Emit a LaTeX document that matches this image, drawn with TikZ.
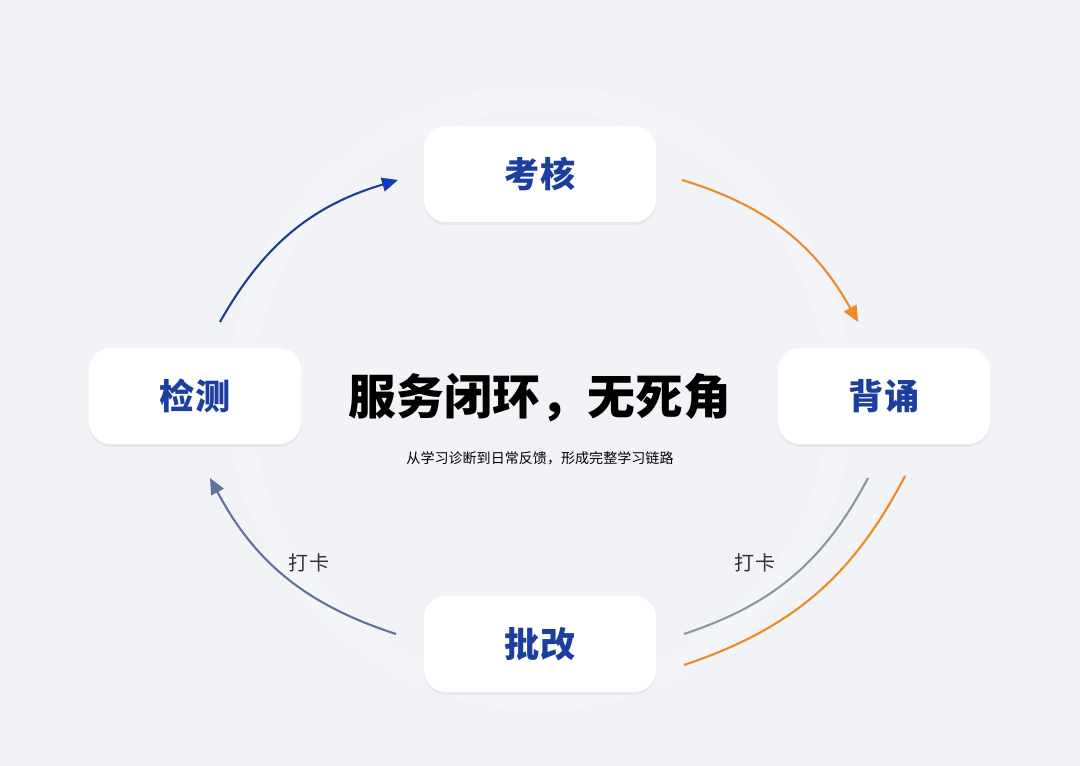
\documentclass[tikz,border=0pt]{standalone}
\usepackage{fontspec}
\setmainfont{Noto Sans CJK SC}
\usetikzlibrary{shadows,arrows.meta}
\definecolor{bgcol}{HTML}{F1F3F7}
\definecolor{boxtext}{HTML}{1C3E9E}
\definecolor{arcblue}{HTML}{1F3F8A}
\definecolor{arcorange}{HTML}{EE8A2A}
\definecolor{arcgray}{HTML}{8C96A6}
\tikzset{card/.style = {draw=none, fill=white, rounded corners=0.22cm, minimum width=2.32cm, minimum height=0.96cm,
           drop shadow={shadow xshift=0pt, shadow yshift=-0.03cm, fill=black!12, opacity=0.6},
           font=\fontsize{10}{12}\selectfont\bfseries, text=boxtext},
         flow/.style = {line width=0.6pt},
         tip/.style = {-{Triangle[length=0.16cm, width=0.14cm]}}}
\begin{document}
\begin{tikzpicture}
    \fill[bgcol](0,0) rectangle (10.8,7.66);
    \useasboundingbox (0,0) rectangle (10.8,7.66);
    \draw[white!20!bgcol, line width=0.25cm](5.4,3.68) circle (3.0);
    \node[card](kh)at(5.40,5.92){考核};
    \node[card, minimum width=2.12cm](bs)at(8.84,3.70){背诵};
    \node[card, minimum width=2.12cm](jc)at(1.95,3.70){检测};
    \node[card](pg)at(5.40,1.22){批改};
    \node(title)at(5.40,3.68){\fontsize{13.6}{15}\selectfont\bfseries 服务闭环，无死角};
    \node(sub)at(5.40,3.08){\fontsize{4}{5}\selectfont 从学习诊断到日常反馈，形成完整学习链路};
    \coordinate(a1)at(2.20,4.44); \coordinate(a2)at(3.98,5.86);
    \coordinate(b1)at(6.82,5.86); \coordinate(b2)at(8.58,4.44);
    \coordinate(c1)at(8.68,2.88); \coordinate(c2)at(6.84,1.32);
    \coordinate(d1)at(9.05,2.90); \coordinate(d2)at(6.84,1.01);
    \coordinate(e1)at(3.96,1.32); \coordinate(e2)at(2.10,2.88);
    \draw[flow, arcblue, -{Triangle[length=0.16cm, width=0.14cm, fill=blue!80!cyan]}](a1) to[bend left=22] (a2);
    \draw[flow, tip, arcorange](b1) to[bend left=22] (b2);
    \draw[flow, arcgray](c1) to[bend left=22] (c2);
    \draw[flow, arcorange](d1) to[bend left=22] (d2);
    \draw[flow, tip, arcgray!60!arcblue](e1) to[bend left=22] (e2);
    \node[font=\fontsize{5.7}{7}\selectfont, text=black!80](lk)at(3.09,2.03){打卡};
    \node[font=\fontsize{5.7}{7}\selectfont, text=black!80](rk)at(7.55,2.03){打卡};
\end{tikzpicture}
\end{document}
